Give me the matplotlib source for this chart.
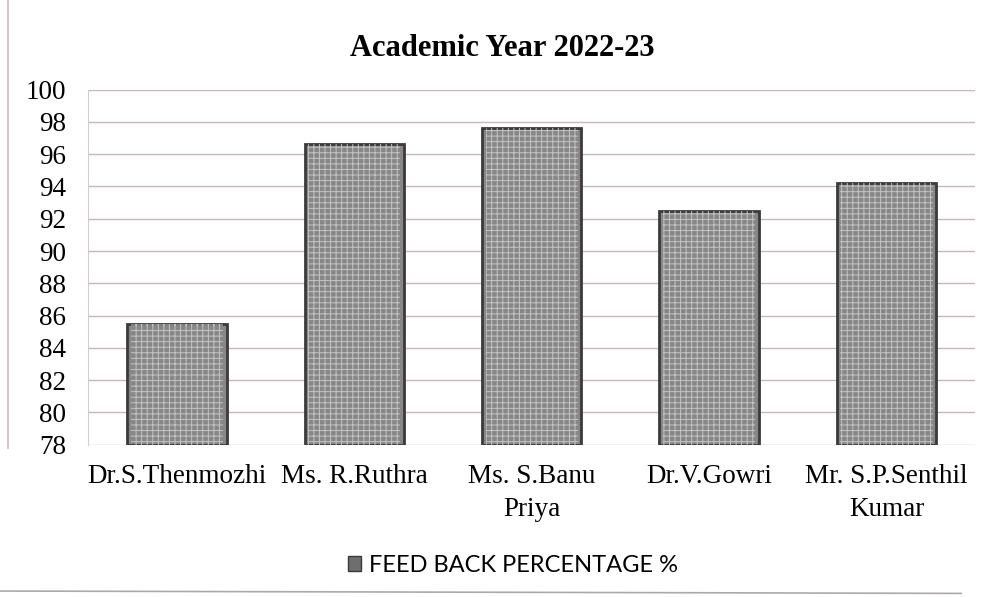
import matplotlib
matplotlib.use("Agg")
import matplotlib.pyplot as plt
from matplotlib.patches import Rectangle
from matplotlib.lines import Line2D

categories = ["Dr.S.Thenmozhi", "Ms. R.Ruthra", "Ms. S.Banu\nPriya", "Dr.V.Gowri", "Mr. S.P.Senthil\nKumar"]
values = [85.5, 96.6, 97.6, 92.5, 94.2]
series_name = "FEED BACK PERCENTAGE %"
title = "Academic Year 2022-23"
yticks = list(range(78, 101, 2))

fig = plt.figure(figsize=(9.91, 5.97), dpi=100)
ax = fig.add_axes([0.089, 0.255, 0.895, 0.595])

x = list(range(len(categories)))
ax.bar(x, [v - 78 for v in values], bottom=78, width=0.56,
       color="#878787", edgecolor="#3a3a3a", linewidth=2.0, zorder=3)
plt.rcParams['hatch.linewidth'] = 0.7
ax.bar(x, [v - 78 for v in values], bottom=78, width=0.52,
       color="none", edgecolor="#c4c4c4", linewidth=0, hatch="+++", zorder=4)

ax.set_ylim(78, 100)
ax.set_xlim(-0.5, len(categories) - 0.5)
ax.set_yticks(yticks)
ax.yaxis.grid(True, color="#cdb6b6", linewidth=1.0, zorder=0)
ax.set_axisbelow(True)
for s in ["top", "right", "bottom"]:
    ax.spines[s].set_visible(False)
ax.spines["left"].set_color("#d6caca")
ax.tick_params(axis="both", length=0, labelsize=19.5)
ax.tick_params(axis="y", pad=16)
ax.tick_params(axis="x", pad=14)
ax.set_xticks(x)
ax.set_xticklabels(categories, fontfamily="Liberation Serif", linespacing=1.4)
for lab in ax.get_yticklabels():
    lab.set_fontfamily("Liberation Serif")

fig.text(0.507, 0.918, title, ha="center", va="center", fontsize=22,
         fontweight="bold", fontfamily="Liberation Serif")

handle = Rectangle((0, 0), 1, 1, facecolor="#6e6e6e", edgecolor="#3a3a3a", linewidth=1)
fig.legend([handle], [series_name], loc="center", bbox_to_anchor=(0.518, 0.053),
           frameon=False, prop={"family": "Lato", "size": 17},
           handlelength=0.55, handleheight=0.55, handletextpad=0.35)

# chart frame remnants
fig.add_artist(Line2D([0.008, 0.008], [0.25, 1.0], color="#c9bcbc", linewidth=1.2))
fig.add_artist(Line2D([0.0, 0.97], [0.01, 0.006], color="#b0a8a8", linewidth=1.2))

fig.savefig("out.png", dpi=100)
